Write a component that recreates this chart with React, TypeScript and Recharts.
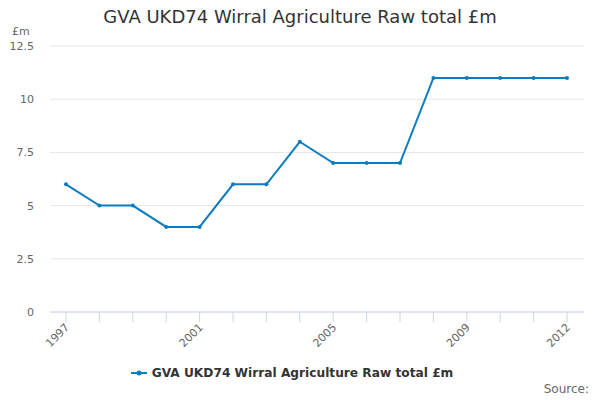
import { CartesianGrid, Legend, Line, LineChart, XAxis, YAxis } from 'recharts'

const YEARS = [
  '1997', '1998', '1999', '2000', '2001', '2002', '2003', '2004',
  '2005', '2006', '2007', '2008', '2009', '2010', '2011', '2012',
]
const VALUES = [6, 5, 5, 4, 4, 6, 6, 8, 7, 7, 7, 11, 11, 11, 11, 11]
const Y_TICKS = [0, 2.5, 5, 7.5, 10, 12.5]
const LABELED_YEARS = ['1997', '2001', '2005', '2009', '2012']

const SERIES_NAME = 'GVA UKD74 Wirral Agriculture Raw total £m'
const LINE_COLOR = '#0d7bc0'
const FONT = '"DejaVu Sans", sans-serif'

const data = YEARS.map((year, i) => ({ year, value: VALUES[i] }))

function YearTick({ x, y, payload }: any) {
  if (!LABELED_YEARS.includes(payload.value)) return null
  return (
    <g transform={`translate(${x + 4},${y + 6})`}>
      <text
        x={0}
        y={0}
        textAnchor="end"
        transform="rotate(-45)"
        fontSize={11}
        fill="#666"
        fontFamily={FONT}
      >
        {payload.value}
      </text>
    </g>
  )
}

function LegendContent() {
  return (
    <div style={{ display: 'flex', justifyContent: 'center', alignItems: 'center', height: 24 }}>
      <svg width={16} height={12} style={{ marginRight: 5 }}>
        <line x1={0} y1={6} x2={16} y2={6} stroke={LINE_COLOR} strokeWidth={2} />
        <circle cx={8} cy={6} r={2.5} fill={LINE_COLOR} />
      </svg>
      <span style={{ fontFamily: FONT, fontSize: 12.2, fontWeight: 'bold', color: '#333' }}>
        {SERIES_NAME}
      </span>
    </div>
  )
}

export default function App() {
  return (
    <div style={{ position: 'absolute', left: 0, top: 0, width: 600, height: 400, background: '#fff' }}>
      <div
        style={{
          position: 'absolute', top: 6, left: 0, width: 600, textAlign: 'center',
          fontFamily: FONT, fontSize: 18, color: '#333',
        }}
      >
        {SERIES_NAME}
      </div>
      <div
        style={{ position: 'absolute', top: 25, left: 12, fontFamily: FONT, fontSize: 11, color: '#666' }}
      >
        £m
      </div>
      <LineChart
        width={600}
        height={400}
        data={data}
        margin={{ top: 46, right: 16, left: 0, bottom: 15 }}
      >
        <CartesianGrid vertical={false} stroke="#e6e6e6" />
        <XAxis
          dataKey="year"
          interval={0}
          padding={{ left: 16, right: 17 }}
          stroke="#ccd6eb"
          tickSize={10}
          tickMargin={0}
          height={49}
          tick={<YearTick />}
        />
        <YAxis
          domain={[0, 12.5]}
          ticks={Y_TICKS}
          width={50}
          axisLine={false}
          tickLine={false}
          tickMargin={10}
          tick={{ fontSize: 11, fill: '#666', fontFamily: FONT }}
        />
        <Legend verticalAlign="bottom" height={24} content={<LegendContent />} />
        <Line
          dataKey="value"
          name={SERIES_NAME}
          stroke={LINE_COLOR}
          strokeWidth={2}
          dot={{ r: 2, fill: LINE_COLOR, stroke: LINE_COLOR, strokeWidth: 0 }}
          activeDot={false}
          isAnimationActive={false}
        />
      </LineChart>
      <div
        style={{
          position: 'absolute', top: 382, right: 11, fontFamily: FONT, fontSize: 12, color: '#666',
        }}
      >
        Source:
      </div>
    </div>
  )
}
